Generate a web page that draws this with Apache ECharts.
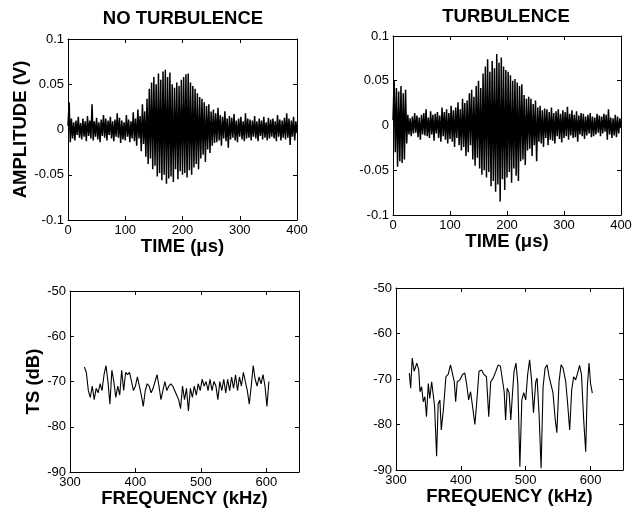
<!DOCTYPE html>
<html>
<head>
<meta charset="utf-8">
<script src="https://cdn.jsdelivr.net/npm/echarts@6/dist/echarts.min.js"></script>
<style>
  html, body { margin: 0; padding: 0; background: #fff; }
  #chart { width: 635px; height: 513px; }
</style>
</head>
<body>
<div id="chart"></div>
<script>
// time series, sampled every 2 us from 0 to 400 us, amplitude in mV
const timeStep = 2;
const ampNoTurb = [
  4, 30, -14, 12, -10, 8, -12, 10, -6, 14,
  -9, 7, -11, 12, -8, 9, -13, 15, -7, 10,
  -10, 28, -12, 9, -8, 13, -11, 8, -14, 11,
  -7, 16, -9, 12, -12, 10, -6, 14, -10, 9,
  -13, 11, -8, 18, -9, 13, -15, 10, -11, 8,
  -12, 16, -8, 11, -14, 9, -10, 19, -13, 12,
  -18, 22, -10, 15, -24, 28, -16, 20, -30, 34,
  -38, 45, -32, 52, -44, 58, -40, 50, -52, 62,
  -48, 55, -56, 64, -50, 66, -60, 58, -54, 63,
  -52, 50, -58, 46, -44, 52, -55, 48, -46, 55,
  -50, 58, -48, 61, -53, 62, -45, 52, -50, 48,
  -42, 45, -38, 40, -44, 36, -32, 34, -28, 30,
  -36, 26, -22, 28, -26, 20, -18, 22, -15, 18,
  -14, 24, -12, 16, -18, 14, -10, 20, -13, 12,
  -20, 15, -11, 13, -9, 17, -12, 10, -14, 12,
  -8, 14, -11, 9, -13, 18, -10, 12, -9, 11,
  -12, 10, -8, 15, -10, 9, -13, 12, -7, 10,
  -11, 14, -9, 8, -12, 13, -10, 11, -8, 12,
  -10, 9, -13, 16, -8, 11, -12, 10, -9, 13,
  -11, 18, -9, 12, -17, 10, -8, 14, -12, 9,
  -4
];
const ampTurb = [
  6, 50, -30, 42, -46, 38, -40, 44, -42, 36,
  -38, 40, -20, 12, -10, 8, -12, 10, -9, 14,
  -8, 11, -13, 9, -16, 12, -10, 14, -11, 18,
  -12, 9, -14, 16, -10, 12, -17, 13, -9, 15,
  -14, 11, -18, 20, -12, 15, -16, 18, -20, 14,
  -15, 22, -18, 17, -24, 20, -14, 26, -22, 18,
  -28, 30, -24, 25, -34, 28, -30, 36, -22, 40,
  -38, 32, -45, 44, -36, 50, -48, 42, -55, 58,
  -50, 66, -58, 74, -52, 60, -68, 72, -62, 64,
  -74, 80, -66, 70, -85, 76, -60, 66, -72, 62,
  -58, 60, -52, 56, -64, 50, -48, 52, -56, 48,
  -62, 44, -40, 46, -38, 34, -44, 30, -28, 32,
  -26, 30, -34, 24, -22, 28, -40, 20, -18, 22,
  -20, 17, -24, 19, -14, 18, -22, 15, -16, 20,
  -17, 14, -20, 16, -12, 18, -15, 13, -19, 17,
  -14, 15, -12, 21, -16, 13, -11, 17, -14, 12,
  -13, 16, -18, 11, -10, 14, -12, 13, -15, 10,
  -11, 12, -9, 14, -13, 10, -12, 9, -10, 13,
  -8, 11, -12, 10, -9, 13, -7, 12, -16, 18,
  -10, 9, -14, 8, -11, 12, -13, 10, -9, 8,
  -3
];

// target strength spectra
const freqNoTurb = [
  322, 325, 328, 331, 334, 337, 340, 343, 346, 349, 352, 355, 358, 361, 364, 367,
  370, 373, 376, 379, 382, 385, 388, 391, 394, 397, 400, 403, 406, 409, 412, 415,
  418, 421, 424, 427, 430, 433, 436, 439, 442, 445, 448, 451, 454, 457, 460, 463,
  466, 469, 472, 475, 478, 481, 484, 487, 490, 493, 496, 499, 502, 505, 508, 511,
  514, 517, 520, 523, 526, 529, 532, 535, 538, 541, 544, 547, 550, 553, 556, 559,
  562, 565, 568, 571, 574, 577, 580, 583, 586, 589, 592, 595, 598, 601, 604
];
const tsNoTurb = [
  -66.8, -68, -72, -73.5, -71, -74, -71.5, -72.5, -70.5, -72, -68.5, -66.5, -70, -75, -67.5, -70,
  -73.5, -71, -73, -67.5, -72, -68, -68.5, -68, -70, -72, -71, -69, -71, -73, -75.5, -72,
  -70.5, -71, -72.5, -71.5, -70, -68.5, -71, -74, -72, -70, -72, -71, -70.5, -71, -72, -73,
  -74, -76, -71, -74, -71.5, -76.5, -71.5, -73.5, -71, -73, -70.5, -72, -69.5, -71, -70, -72,
  -69.5, -72, -70, -71, -74, -70, -72, -69.5, -72.5, -69.5, -72, -69, -71.5, -68.5, -72, -69,
  -71, -68, -70, -72, -75, -71, -66.5, -69.5, -71, -69, -70.5, -68.5, -71, -75.5, -70
];
const freqTurb = [
  320.5, 322.6, 325, 328, 332, 335, 337, 339.5, 342, 344.6, 347, 349.8, 352, 355, 357.5, 359.5,
  362.6, 365, 367.7, 369.8, 373, 377, 380.5, 384, 387, 389.8, 392, 394.4, 398.5, 402.6, 406, 408.8,
  412, 415, 418, 421.6, 424, 428, 432, 435.4, 439.5, 443, 446, 449.8, 454, 457.5, 461, 464,
  466.8, 469, 471.4, 474.4, 477, 479.6, 482, 485, 487.8, 491, 494, 497, 500, 503, 506, 509,
  512, 515.5, 517.5, 520.6, 523.7, 526.8, 529.9, 533, 536, 539, 542, 545.6, 548, 551.4, 554.5, 557.6,
  561.7, 564.7, 567.8, 570.9, 574, 577, 580, 583, 586, 589.4, 592.5, 595, 597.6, 600, 602.7
];
const tsTurb = [
  -68.7, -72, -65.4, -68.3, -66.5, -68, -72.8, -71.7, -75, -73.9, -78.3, -71, -74.3, -70.6, -70.2, -76,
  -87, -75.5, -74.6, -81.2, -76.8, -69.5, -69, -66.9, -67, -70.5, -75, -70.6, -70.2, -69, -68.7, -71,
  -74.6, -72.8, -76, -80, -76, -68.3, -68, -69, -69.5, -78.3, -70.6, -69.8, -68.3, -66.9, -67.2, -67.6,
  -72.8, -79, -72, -73, -79, -73.2, -68.3, -66.5, -71, -89.3, -74.6, -73, -74.6, -69, -65.8, -70.2,
  -77.4, -70.6, -69.8, -77.7, -89.6, -71.7, -67.6, -66.9, -69.5, -69.8, -73, -79, -81.8, -70.6, -66.9, -67.6,
  -70.6, -75.5, -81.2, -72.4, -69.5, -70.2, -68.7, -67, -69, -79, -86, -71.7, -66.5, -71, -73.1
];

const timeTicks = { min: 0, max: 400, interval: 100 };
const ampTicks = { min: -0.1, max: 0.1, interval: 0.05 };
const freqTicks = { min: 300, max: 650, interval: 100 };
const tsTicks = { min: -90, max: -50, interval: 10 };

const FONT = '"Liberation Sans", Arial, Helvetica, sans-serif';

const grids = [
  { left: 68, top: 39, width: 229, height: 181 },
  { left: 393, top: 36, width: 228, height: 179 },
  { left: 70, top: 291, width: 229, height: 181 },
  { left: 396, top: 288, width: 227, height: 182 }
];

function ampLabel(v) {
  const r = Math.round(v * 100) / 100;
  return r === 0 ? '0' : String(r);
}

function axis(gridIndex, range, opts) {
  const mirror = !!opts.mirror;
  return Object.assign({
    type: 'value',
    gridIndex: gridIndex,
    min: range.min,
    max: range.max,
    interval: range.interval,
    splitLine: { show: false },
    axisLine: { show: true, onZero: false, lineStyle: { color: '#000', width: 1 } },
    axisTick: { show: true, inside: true, length: 4, lineStyle: { color: '#000' } },
    axisLabel: {
      show: !mirror,
      color: '#000',
      fontFamily: FONT,
      fontSize: 13,
      margin: 4,
      showMaxLabel: range.max % range.interval === 0 || range === ampTicks,
      formatter: opts.formatter
    },
    nameTextStyle: { color: '#000', fontFamily: FONT, fontWeight: 'bold', fontSize: 18.5 }
  }, opts.extra || {});
}

const xAxes = [];
const yAxes = [];
[
  [timeTicks, ampTicks, 'TIME (μs)', 'AMPLITUDE (V)', ampLabel, 12],
  [timeTicks, ampTicks, 'TIME (μs)', '', ampLabel, 12],
  [freqTicks, tsTicks, 'FREQUENCY (kHz)', 'TS (dB)', null, 15],
  [freqTicks, tsTicks, 'FREQUENCY (kHz)', '', null, 15]
].forEach(function (cfg, g) {
  xAxes.push(axis(g, cfg[0], { extra: { position: 'bottom', name: cfg[2], nameLocation: 'middle', nameGap: cfg[5] } }));
  xAxes.push(axis(g, cfg[0], { mirror: true, extra: { position: 'top' } }));
  yAxes.push(axis(g, cfg[1], {
    formatter: cfg[4] || undefined,
    extra: { position: 'left', name: cfg[3], nameLocation: 'middle', nameGap: g === 0 ? 38 : 27 }
  }));
  yAxes.push(axis(g, cfg[1], { mirror: true, extra: { position: 'right' } }));
});

function timeSeries(amps) {
  return amps.map(function (a, i) { return [i * timeStep, a / 1000]; });
}
function pairs(xs, ys) {
  return xs.map(function (x, i) { return [x, ys[i]]; });
}

const lineBase = {
  type: 'line',
  showSymbol: false,
  silent: true,
  animation: false
};

const series = [
  Object.assign({}, lineBase, { xAxisIndex: 0, yAxisIndex: 0, data: timeSeries(ampNoTurb), lineStyle: { color: '#000', width: 1.5 } }),
  Object.assign({}, lineBase, { xAxisIndex: 2, yAxisIndex: 2, data: timeSeries(ampTurb), lineStyle: { color: '#000', width: 1.5 } }),
  Object.assign({}, lineBase, { xAxisIndex: 4, yAxisIndex: 4, data: pairs(freqNoTurb, tsNoTurb), lineStyle: { color: '#000', width: 1.1 } }),
  Object.assign({}, lineBase, { xAxisIndex: 6, yAxisIndex: 6, data: pairs(freqTurb, tsTurb), lineStyle: { color: '#000', width: 1.1 } })
];

const chart = echarts.init(document.getElementById('chart'), null, { renderer: 'canvas' });
chart.setOption({
  animation: false,
  backgroundColor: '#fff',
  grid: grids,
  xAxis: xAxes,
  yAxis: yAxes,
  series: series,
  graphic: [
    { type: 'text', x: 183, y: 19, style: { text: 'NO TURBULENCE', fill: '#000', font: 'bold 18.5px ' + FONT, textAlign: 'center', textVerticalAlign: 'middle' } },
    { type: 'text', x: 506, y: 17, style: { text: 'TURBULENCE', fill: '#000', font: 'bold 18.5px ' + FONT, textAlign: 'center', textVerticalAlign: 'middle' } }
  ]
});
</script>
</body>
</html>
